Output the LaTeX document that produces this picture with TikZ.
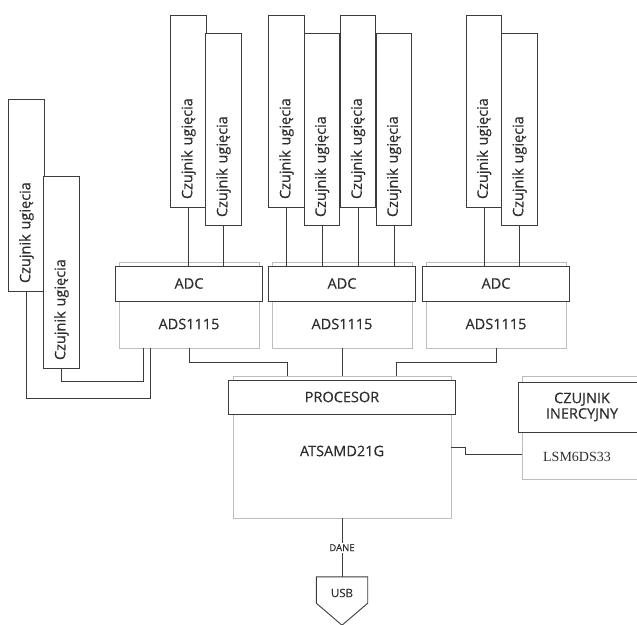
\documentclass[tikz,border=0pt]{standalone}
\usepackage{fontspec}
\setmainfont{Open Sans}[FakeBold=0.35]
\newfontfamily\lsmfont{Liberation Serif}
\usetikzlibrary{calc}
\definecolor{dk}{HTML}{3C3C3C}
\definecolor{lt}{HTML}{BDBDBD}
\definecolor{tx}{HTML}{2E2E2E}
\begin{document}
\begin{tikzpicture}[x=1pt,y=-1pt,
  every node/.style={text=tx},
  sensor/.style={draw=dk, line width=0.9pt, fill=white, rotate=90,
    minimum height=35.5pt, text width=176pt, inner xsep=8pt, inner ysep=0pt,
    align=left, font=\fontsize{14.5}{17}\selectfont},
  header/.style={draw=dk, line width=1pt, fill=white, inner sep=0pt,
    font=\fontsize{14.5}{17}\selectfont},
  body/.style={draw=lt, line width=0.9pt, fill=white, inner sep=0pt},
  lbl/.style={inner sep=0pt, font=\fontsize{14.5}{17}\selectfont},
  wire/.style={draw=dk, line width=0.9pt}]
\useasboundingbox (0,0) rectangle (637,624);
\clip (0,0) rectangle (637,624);

% sensors, group 1
\node[sensor] (s11) at (188.5,111) {Czujnik ugięcia};
\node[sensor] (s12) at (223.5,129) {Czujnik ugięcia};
% group 2
\node[sensor] (s21) at (286.5,111) {Czujnik ugięcia};
\node[sensor] (s22) at (322,129) {Czujnik ugięcia};
\node[sensor] (s23) at (358,111) {Czujnik ugięcia};
\node[sensor] (s24) at (394,129) {Czujnik ugięcia};
% group 3
\node[sensor] (s31) at (484,111) {Czujnik ugięcia};
\node[sensor] (s32) at (519.5,129) {Czujnik ugięcia};
% left sensors
\node[sensor] (l1) at (26.5,195) {Czujnik ugięcia};
\node[sensor] (l2) at (61.5,272) {Czujnik ugięcia};

% ADC blocks
\foreach \i/\x in {1/189,2/342,3/496}{
  \node[body, minimum width=140pt, minimum height=86pt] (ab\i) at (\x,305) {};
  \node[lbl] (ads\i) at (\x,324) {ADS1115};
  \node[header, minimum width=147pt, minimum height=35pt] (ah\i) at (\x,283.5) {ADC};
}

% sensor wires
\foreach \s/\a in {s11/ah1,s12/ah1,s21/ah2,s22/ah2,s23/ah2,s24/ah2,s31/ah3,s32/ah3}{
  \draw[wire] (\s.west) -- (\s.west |- \a.north);
}

% processor
\node[body, minimum width=218pt, minimum height=142pt] (pbody) at (342,447) {};
\node[header, minimum width=227pt, minimum height=34pt] (ph) at (342,397) {PROCESOR};
\node[lbl] (mcu) at (342,451) {ATSAMD21G};

% inertial sensor
\node[body, minimum width=120pt, minimum height=103pt] (ibody) at (582,427.5) {};
\node[header, minimum width=128pt, minimum height=50pt, align=center,
  font=\fontsize{14.5}{15.5}\selectfont] (ih) at (582,407) {CZUJNIK\\INERCYJNY};
\node[inner sep=0pt, font=\lsmfont\fontsize{14}{16}\selectfont] (lsm) at (577,457) {LSM6DS33};

% left sensors to ADC1
\draw[wire] (l1.west) -- ++(0,107) -| ([xshift=-39pt]ab1.south);
\draw[wire] (l2.west) -- ++(0,13) -| ([xshift=-46pt]ab1.south);

% ADC to processor
\draw[wire] (ab1.south) -- ++(0,14) -| ([xshift=-54.5pt]pbody.north);
\draw[wire] (ab2.south) -- (pbody.north);
\draw[wire] (ab3.south) -- ++(0,14) -| ([xshift=54.5pt]pbody.north);

% processor to inertial sensor
\draw[wire] (pbody.east) -- ++(14,0) -- ++(0,7) coordinate (kk) -- (kk -| ibody.west);

% USB
\node[minimum width=51pt, minimum height=26pt, inner sep=0pt] (usb) at (342,590) {};
\node[inner sep=0pt, font=\fontsize{11.5}{13}\selectfont] (usbt) at (342,593) {USB};
\draw[wire] (usb.north west) -- (usb.north east) -- (usb.south east)
  -- ([yshift=-22pt]usb.south) -- (usb.south west) -- cycle;
\draw[wire] (pbody.south) -- node[fill=white, inner sep=1.5pt,
  font=\fontsize{9.5}{11}\selectfont] (dane) {DANE} (usb.north);
\end{tikzpicture}
\end{document}
